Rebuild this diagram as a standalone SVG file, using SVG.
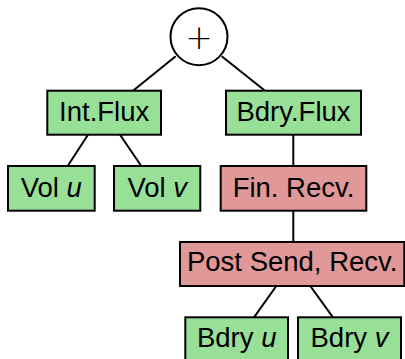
<svg xmlns="http://www.w3.org/2000/svg" width="405" height="359" viewBox="0 0 405 359">
<style>
.g{fill:#98e098;stroke:#000;stroke-width:2}
.r{fill:#e09898;stroke:#000;stroke-width:2}
.t{font-family:"Liberation Sans",Arial,sans-serif;font-size:27.5px;fill:#000;text-anchor:middle}
.i{font-style:italic}
#edges line{stroke:#000;stroke-width:2}
</style>
<rect width="405" height="359" fill="#fff"/>
<g id="edges">
<line x1="175.7" y1="56.3" x2="133" y2="90.7"/>
<line x1="221.7" y1="56.3" x2="265" y2="90.7"/>
<line x1="88" y1="134.7" x2="67.7" y2="166"/>
<line x1="120" y1="134.7" x2="141.3" y2="166"/>
<line x1="293.3" y1="134.7" x2="293.3" y2="166"/>
<line x1="293.3" y1="210.7" x2="293.3" y2="242"/>
<line x1="276.3" y1="286" x2="254" y2="317.3"/>
<line x1="310.3" y1="286" x2="333" y2="317.3"/>
</g>
<g id="plus">
<circle cx="199" cy="36.7" r="28.5" fill="#fff" stroke="#000" stroke-width="2"/>
<text x="199" y="49" style="font-family:'DejaVu Sans',sans-serif;font-size:33px;font-weight:200;fill:#000;text-anchor:middle">+</text>
</g>
<g id="intflux"><rect class="g" x="47.3" y="90.7" width="113.7" height="44"/><text class="t" x="104.2" y="120.7">Int.Flux</text></g>
<g id="bdryflux"><rect class="g" x="226" y="90.7" width="135" height="44"/><text class="t" x="293.5" y="120.7">Bdry.Flux</text></g>
<g id="volu"><rect class="g" x="8" y="166" width="86.7" height="44.7"/><text class="t" x="51.3" y="196.7">Vol <tspan class="i">u</tspan></text></g>
<g id="volv"><rect class="g" x="114" y="166" width="86.3" height="44.7"/><text class="t" x="157.2" y="196.7">Vol <tspan class="i">v</tspan></text></g>
<g id="finrecv"><rect class="r" x="220.7" y="166" width="145.6" height="44.7"/><text class="t" x="293.5" y="196.7">Fin. Recv.</text></g>
<g id="postsend"><rect class="r" x="180" y="242" width="224.3" height="44"/><text class="t" x="292.2" y="271">Post Send, Recv.</text></g>
<g id="bdryu"><rect class="g" x="185.3" y="317.3" width="102.7" height="44"/><text class="t" x="236.7" y="347.3">Bdry <tspan class="i">u</tspan></text></g>
<g id="bdryv"><rect class="g" x="298" y="317.3" width="103" height="44"/><text class="t" x="349.5" y="347.3">Bdry <tspan class="i">v</tspan></text></g>
</svg>
